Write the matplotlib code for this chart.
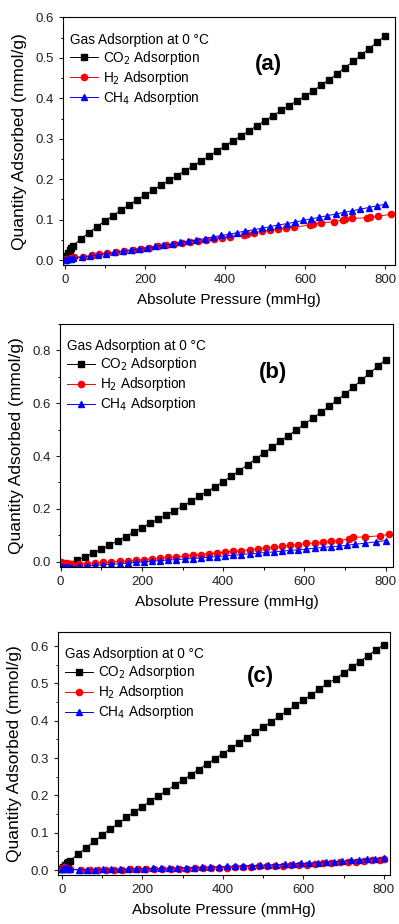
import matplotlib

matplotlib.use("Agg")
import matplotlib.pyplot as plt
from matplotlib.ticker import MultipleLocator, FormatStrFormatter

plt.rcParams["font.family"] = ["Liberation Sans", "DejaVu Sans"]

# ---- panel (a) ----
a_co2_x = [1, 4, 8, 12, 16, 20, 40, 60, 80, 100, 120, 140, 160, 180, 200, 220, 240, 260, 280,
           300, 320, 340, 360, 380, 400, 420, 440, 460, 480, 500, 520, 540, 560, 580, 600,
           620, 640, 660, 680, 700, 720, 740, 760, 780, 800]
a_co2_y = [0.004, 0.010, 0.017, 0.024, 0.030, 0.036, 0.053, 0.068, 0.083, 0.097, 0.110, 0.124,
           0.136, 0.149, 0.161, 0.173, 0.186, 0.197, 0.209, 0.221, 0.233, 0.245, 0.257, 0.270,
           0.282, 0.295, 0.307, 0.320, 0.332, 0.345, 0.357, 0.370, 0.382, 0.394, 0.405, 0.418,
           0.432, 0.446, 0.460, 0.476, 0.491, 0.506, 0.523, 0.538, 0.555]
a_h2_x = [2, 8, 15, 22, 45, 68, 85, 105, 128, 148, 170, 190, 210, 232, 252, 272, 292, 312, 332,
          352, 372, 392, 412, 448, 455, 472, 492, 512, 532, 552, 572, 612, 620, 640, 672, 694,
          700, 718, 756, 762, 782, 815]
a_h2_y = [0.002, 0.004, 0.006, 0.007, 0.009, 0.012, 0.015, 0.017, 0.020, 0.023, 0.026, 0.028,
          0.031, 0.034, 0.037, 0.040, 0.042, 0.045, 0.047, 0.050, 0.053, 0.055, 0.057, 0.062,
          0.065, 0.068, 0.071, 0.074, 0.077, 0.080, 0.081, 0.087, 0.090, 0.092, 0.095, 0.099,
          0.102, 0.103, 0.105, 0.107, 0.109, 0.113]
a_ch4_x = [0, 3, 6, 10, 15, 20, 42, 62, 82, 103, 123, 144, 164, 185, 205, 226, 246, 267, 287,
           308, 328, 349, 369, 390, 410, 431, 451, 472, 492, 513, 533, 554, 574, 595, 615, 636,
           656, 677, 697, 718, 738, 759, 779, 800]
a_ch4_y = [0.000, 0.001, 0.002, 0.003, 0.004, 0.005, 0.007, 0.010, 0.013, 0.016, 0.019, 0.022,
           0.025, 0.028, 0.031, 0.034, 0.037, 0.040, 0.044, 0.047, 0.050, 0.053, 0.057, 0.061,
           0.064, 0.068, 0.072, 0.075, 0.079, 0.083, 0.087, 0.090, 0.094, 0.098, 0.102, 0.106,
           0.110, 0.114, 0.118, 0.122, 0.126, 0.130, 0.134, 0.138]

# ---- panel (b) ----
b_co2_x = [2, 6, 10, 15, 20, 28, 40, 60, 80, 100, 120, 140, 160, 180, 200, 220, 240, 260, 280,
           300, 320, 340, 360, 380, 400, 420, 440, 460, 480, 500, 520, 540, 560, 580, 600,
           620, 640, 660, 680, 700, 720, 740, 760, 780, 800]
b_co2_y = [-0.012, -0.013, -0.014, -0.012, -0.012, -0.010, 0.005, 0.019, 0.033, 0.047, 0.063,
           0.079, 0.095, 0.112, 0.129, 0.145, 0.161, 0.177, 0.193, 0.210, 0.228, 0.247, 0.265,
           0.284, 0.303, 0.324, 0.345, 0.367, 0.389, 0.411, 0.433, 0.455, 0.477, 0.499, 0.521,
           0.543, 0.565, 0.588, 0.611, 0.635, 0.661, 0.687, 0.713, 0.739, 0.765]
b_h2_x = [2, 8, 15, 25, 45, 65, 85, 105, 125, 145, 165, 185, 205, 225, 245, 265, 285, 305, 325,
          345, 365, 385, 405, 425, 445, 465, 485, 505, 525, 545, 565, 585, 605, 625, 645, 665,
          685, 710, 720, 750, 785, 808]
b_h2_y = [-0.003, -0.005, -0.006, -0.007, -0.008, -0.007, -0.005, -0.003, -0.001, 0.001, 0.003,
          0.005, 0.008, 0.011, 0.013, 0.016, 0.018, 0.021, 0.024, 0.027, 0.030, 0.033, 0.036,
          0.039, 0.042, 0.045, 0.049, 0.052, 0.055, 0.058, 0.062, 0.065, 0.069, 0.071, 0.074,
          0.077, 0.080, 0.086, 0.092, 0.094, 0.098, 0.103]
b_ch4_x = [0, 4, 8, 12, 18, 25, 45, 65, 85, 105, 125, 145, 165, 185, 205, 225, 245, 265, 285,
           305, 325, 345, 365, 385, 405, 425, 445, 465, 485, 505, 525, 545, 565, 585, 605, 625,
           645, 665, 685, 705, 725, 750, 775, 800]
b_ch4_y = [-0.020, -0.021, -0.022, -0.022, -0.021, -0.020, -0.018, -0.016, -0.014, -0.012,
           -0.010, -0.008, -0.005, -0.003, 0.000, 0.002, 0.004, 0.006, 0.008, 0.010, 0.012,
           0.014, 0.017, 0.019, 0.022, 0.024, 0.027, 0.030, 0.032, 0.035, 0.037, 0.040, 0.043,
           0.045, 0.048, 0.051, 0.054, 0.057, 0.059, 0.062, 0.066, 0.070, 0.075, 0.080]

# ---- panel (c) ----
c_co2_x = [1, 4, 8, 12, 16, 20, 40, 60, 80, 100, 120, 140, 160, 180, 200, 220, 240, 260, 280,
           300, 320, 340, 360, 380, 400, 420, 440, 460, 480, 500, 520, 540, 560, 580, 600,
           620, 640, 660, 680, 700, 720, 740, 760, 780, 800]
c_co2_y = [0.003, 0.008, 0.013, 0.018, 0.022, 0.025, 0.043, 0.060, 0.077, 0.094, 0.110, 0.125,
           0.141, 0.156, 0.170, 0.185, 0.199, 0.213, 0.227, 0.241, 0.255, 0.269, 0.284, 0.298,
           0.312, 0.326, 0.340, 0.355, 0.369, 0.383, 0.397, 0.412, 0.426, 0.441, 0.455, 0.470,
           0.484, 0.500, 0.512, 0.528, 0.543, 0.558, 0.574, 0.589, 0.604]
c_h2_x = [1, 5, 10, 15, 20, 48, 70, 90, 110, 130, 150, 170, 190, 210, 230, 250, 270, 290, 310,
          330, 350, 370, 390, 410, 430, 450, 470, 490, 510, 530, 550, 570, 590, 610, 630, 650,
          670, 690, 710, 730, 750, 770, 790, 800]
c_h2_y = [0.004, 0.008, 0.005, 0.003, 0.002, 0.000, 0.000, 0.000, 0.001, 0.001, 0.001, 0.002,
          0.002, 0.002, 0.003, 0.003, 0.003, 0.004, 0.004, 0.005, 0.005, 0.006, 0.007, 0.007,
          0.008, 0.009, 0.009, 0.010, 0.011, 0.012, 0.012, 0.013, 0.014, 0.015, 0.017, 0.018,
          0.019, 0.021, 0.022, 0.023, 0.025, 0.026, 0.028, 0.030]
c_ch4_x = [0, 3, 6, 10, 14, 20, 42, 62, 82, 103, 123, 144, 164, 185, 205, 226, 246, 267, 287,
           308, 328, 349, 369, 390, 410, 431, 451, 472, 492, 513, 533, 554, 574, 595, 615, 636,
           656, 677, 697, 718, 738, 759, 779, 800]
c_ch4_y = [0.002, 0.004, 0.006, 0.005, 0.004, 0.003, 0.001, 0.001, 0.001, 0.002, 0.002, 0.003,
           0.003, 0.004, 0.004, 0.005, 0.005, 0.006, 0.006, 0.007, 0.007, 0.008, 0.009, 0.009,
           0.010, 0.011, 0.012, 0.012, 0.013, 0.014, 0.015, 0.016, 0.017, 0.018, 0.019, 0.020,
           0.022, 0.023, 0.024, 0.026, 0.028, 0.029, 0.031, 0.033]

panels = [
    ("(a)", a_co2_x, a_co2_y, a_h2_x, a_h2_y, a_ch4_x, a_ch4_y),
    ("(b)", b_co2_x, b_co2_y, b_h2_x, b_h2_y, b_ch4_x, b_ch4_y),
    ("(c)", c_co2_x, c_co2_y, c_h2_x, c_h2_y, c_ch4_x, c_ch4_y),
]

# axes rectangles, limits, y ticks per panel
rects = [
    (0.158, 0.7132, 0.832, 0.268),
    (0.150, 0.3864, 0.835, 0.263),
    (0.145, 0.0530, 0.832, 0.263),
]
xlims = [(-5, 825), (-2, 818), (-10, 815)]
ylims = [(-0.012, 0.6), (-0.02, 0.9), (-0.013, 0.6375)]
ysteps = [0.1, 0.2, 0.1]
label_pos = [(0.62, 0.81), (0.64, 0.80), (0.61, 0.815)]

fig = plt.figure(figsize=(3.99, 9.24), dpi=100)

for i, (tag, cx, cy, hx, hy, mx, my) in enumerate(panels):
    ax = fig.add_axes(rects[i])
    ax.plot(cx, cy, color="black", marker="s", markersize=4.3, linewidth=0.7,
            label=r"CO$_2$ Adsorption")
    ax.plot(hx, hy, color="red", marker="o", markersize=4.5, linewidth=0.7,
            label=r"H$_2$ Adsorption")
    ax.plot(mx, my, color="blue", marker="^", markersize=4.5, linewidth=0.7,
            label=r"CH$_4$ Adsorption")
    ax.set_xlim(*xlims[i])
    ax.set_ylim(*ylims[i])
    ax.xaxis.set_major_locator(MultipleLocator(200))
    ax.xaxis.set_minor_locator(MultipleLocator(100))
    ax.yaxis.set_major_locator(MultipleLocator(ysteps[i]))
    ax.yaxis.set_minor_locator(MultipleLocator(ysteps[i] / 2))
    ax.yaxis.set_major_formatter(FormatStrFormatter("%.1f"))
    ax.tick_params(which="major", direction="out", length=3, width=0.8,
                   labelsize=9.5, colors="#222222")
    ax.tick_params(which="minor", direction="out", length=1.8, width=0.7)
    for sp in ax.spines.values():
        sp.set_linewidth(0.8)
    ax.set_xlabel("Absolute Pressure (mmHg)", fontsize=11, labelpad=5)
    ax.set_ylabel("Quantity Adsorbed (mmol/g)", fontsize=12.5, labelpad=6)
    ax.text(label_pos[i][0], label_pos[i][1], tag, transform=ax.transAxes,
            fontsize=16, fontweight="bold", ha="center", va="center")
    ax.legend(title="Gas Adsorption at 0 \u00b0C", loc="upper left", frameon=False,
              fontsize=9.8, title_fontsize=9.8, alignment="left",
              handlelength=2.1, handletextpad=0.35, labelspacing=0.15,
              borderaxespad=0.2, borderpad=0.3, bbox_to_anchor=(0.0, 0.965))

fig.savefig("out.png", dpi=100)
